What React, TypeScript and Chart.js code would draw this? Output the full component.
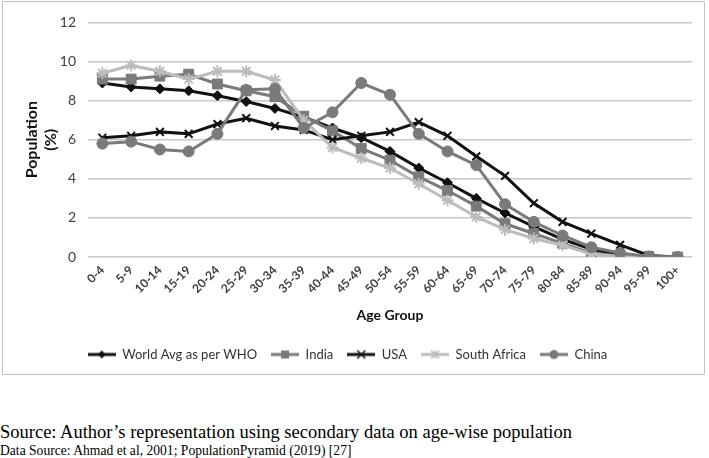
import React, { useEffect, useRef } from "react";
import { Chart, registerables } from "chart.js";
Chart.register(...registerables);

const ageGroups = ["0-4","5-9","10-14","15-19","20-24","25-29","30-34","35-39","40-44","45-49","50-54","55-59","60-64","65-69","70-74","75-79","80-84","85-89","90-94","95-99","100+"];
const worldAvg = [8.9,8.7,8.6,8.5,8.25,7.95,7.6,7.15,6.6,6.1,5.4,4.55,3.8,3.0,2.25,1.55,0.9,0.4,0.1,0.02,0];
const india = [9.1,9.1,9.25,9.35,8.85,8.5,8.2,7.2,6.45,5.55,4.95,4.1,3.4,2.6,1.7,1.2,0.7,0.2,0.05,0,0];
const usa = [6.1,6.2,6.4,6.3,6.8,7.1,6.7,6.5,6.0,6.2,6.4,6.9,6.2,5.15,4.15,2.75,1.8,1.2,0.62,0.08,0];
const southAfrica = [9.4,9.8,9.5,9.1,9.5,9.5,9.05,7.0,5.6,5.05,4.55,3.75,2.9,2.05,1.4,0.95,0.6,0.15,0.03,0,0];
const china = [5.8,5.9,5.5,5.4,6.3,8.55,8.6,6.6,7.4,8.9,8.3,6.3,5.4,4.7,2.7,1.8,1.1,0.5,0.2,0.03,0];
const yTicks = [0, 2, 4, 6, 8, 10, 12];
const seriesNames = ["World Avg as per WHO", "India", "USA", "South Africa", "China"];

const BLACK = "#111111";
const MID = "#7a7a7a";
const LIGHT = "#bcbcbc";

type Style = { color: string; point: any; radius: number; order: number };
const styles: Style[] = [
  { color: BLACK, point: "rectRot", radius: 5, order: 4 },
  { color: MID, point: "rect", radius: 7, order: 3 },
  { color: BLACK, point: "crossRot", radius: 5.5, order: 2 },
  { color: LIGHT, point: "star", radius: 6, order: 1 },
  { color: MID, point: "circle", radius: 5.5, order: 0 },
];

function makeLegendIcon(s: Style): HTMLCanvasElement {
  const c = document.createElement("canvas");
  c.width = 28;
  c.height = 14;
  const ctx = c.getContext("2d")!;
  ctx.strokeStyle = s.color;
  ctx.fillStyle = s.color;
  ctx.lineWidth = 3;
  ctx.beginPath();
  ctx.moveTo(0, 7);
  ctx.lineTo(28, 7);
  ctx.stroke();
  const cx = 14, cy = 7, r = 4;
  ctx.lineWidth = 1.5;
  ctx.beginPath();
  if (s.point === "rectRot") {
    ctx.moveTo(cx, cy - r); ctx.lineTo(cx + r, cy); ctx.lineTo(cx, cy + r); ctx.lineTo(cx - r, cy); ctx.closePath(); ctx.fill();
  } else if (s.point === "rect") {
    ctx.rect(cx - 4, cy - 4, 8, 8); ctx.fill();
  } else if (s.point === "crossRot") {
    ctx.moveTo(cx - r, cy - r); ctx.lineTo(cx + r, cy + r); ctx.moveTo(cx + r, cy - r); ctx.lineTo(cx - r, cy + r); ctx.stroke();
  } else if (s.point === "star") {
    ctx.moveTo(cx - r, cy - r); ctx.lineTo(cx + r, cy + r); ctx.moveTo(cx + r, cy - r); ctx.lineTo(cx - r, cy + r);
    ctx.moveTo(cx, cy - r); ctx.lineTo(cx, cy + r); ctx.stroke();
  } else {
    ctx.arc(cx, cy, 4.5, 0, Math.PI * 2); ctx.fill();
  }
  return c;
}

export default function App() {
  const ref = useRef<HTMLCanvasElement>(null);
  useEffect(() => {
    const values = [worldAvg, india, usa, southAfrica, china];
    const icons = styles.map(makeLegendIcon);
    const chart = new Chart(ref.current!, {
      type: "line",
      data: {
        labels: ageGroups,
        datasets: values.map((v, i) => ({
          label: seriesNames[i],
          data: v,
          borderColor: styles[i].color,
          backgroundColor: styles[i].color,
          pointBackgroundColor: styles[i].color,
          pointBorderColor: styles[i].color,
          pointBorderWidth: styles[i].point === "crossRot" || styles[i].point === "star" ? 2 : 1,
          pointStyle: styles[i].point,
          pointRadius: styles[i].radius,
          borderWidth: 3,
          tension: 0,
          order: styles[i].order,
        })),
      },
      options: {
        animation: false,
        responsive: true,
        maintainAspectRatio: false,
        layout: { padding: { left: 0, right: 12, top: 12, bottom: 3 } },
        plugins: {
          tooltip: { enabled: false },
          legend: {
            position: "bottom",
            labels: {
              usePointStyle: true,
              pointStyleWidth: 28,
              boxHeight: 13,
              padding: 14,
              color: "#333333",
              font: { family: "Lato", size: 13 },
              sort: (a: any, b: any) => a.datasetIndex - b.datasetIndex,
              generateLabels: (ch: any) => {
                const items = Chart.defaults.plugins.legend.labels.generateLabels(ch);
                return items.map((it: any) => ({ ...it, pointStyle: icons[it.datasetIndex], rotation: 0 }));
              },
            },
          },
        },
        scales: {
          x: {
            offset: true,
            grid: { display: false, drawTicks: false },
            border: { display: false },
            ticks: {
              minRotation: 45,
              maxRotation: 45,
              autoSkip: false,
              padding: 6,
              color: "#404040",
              font: { family: "Lato", size: 12, weight: "bold" },
            },
            title: {
              display: true,
              text: "Age Group",
              color: "#111111",
              font: { family: "Lato", size: 14, weight: "bold" },
              padding: { top: 4, bottom: 10 },
            },
            afterFit: (s: any) => { s.height = 77; },
          },
          y: {
            min: 0,
            max: 12,
            afterBuildTicks: (s: any) => { s.ticks = yTicks.map((v) => ({ value: v })); },
            grid: { color: "#c9c9c9", lineWidth: 1.5, drawTicks: false },
            border: { display: false },
            ticks: {
              padding: 12,
              color: "#404040",
              font: { family: "Lato", size: 14 },
            },
            title: {
              display: true,
              text: ["Population", "(%)"],
              color: "#111111",
              font: { family: "Lato", size: 16, weight: "bold", lineHeight: 1.2 },
              padding: { top: 19, bottom: 0 },
            },
            afterFit: (s: any) => { s.width = 85; },
          },
        },
      },
    });
    return () => chart.destroy();
  }, []);

  return (
    <div style={{ position: "absolute", left: 0, top: 0, width: 709, height: 458, background: "#fff" }}>
      <div style={{ position: "absolute", left: 2, top: 1, width: 701, height: 372, border: "1.5px solid #c4c4c4" }}>
        <canvas ref={ref} />
      </div>
      <div style={{ position: "absolute", left: 0, top: 421, fontFamily: "'Liberation Serif', 'Times New Roman', serif", fontSize: 18.5, color: "#000", whiteSpace: "nowrap", lineHeight: "22px" }}>
        Source: Author’s representation using secondary data on age-wise population
      </div>
      <div style={{ position: "absolute", left: 0, top: 443, fontFamily: "'Liberation Serif', 'Times New Roman', serif", fontSize: 13.6, color: "#000", whiteSpace: "nowrap", lineHeight: "16px" }}>
        Data Source: Ahmad et al, 2001; PopulationPyramid (2019) [27]
      </div>
    </div>
  );
}
